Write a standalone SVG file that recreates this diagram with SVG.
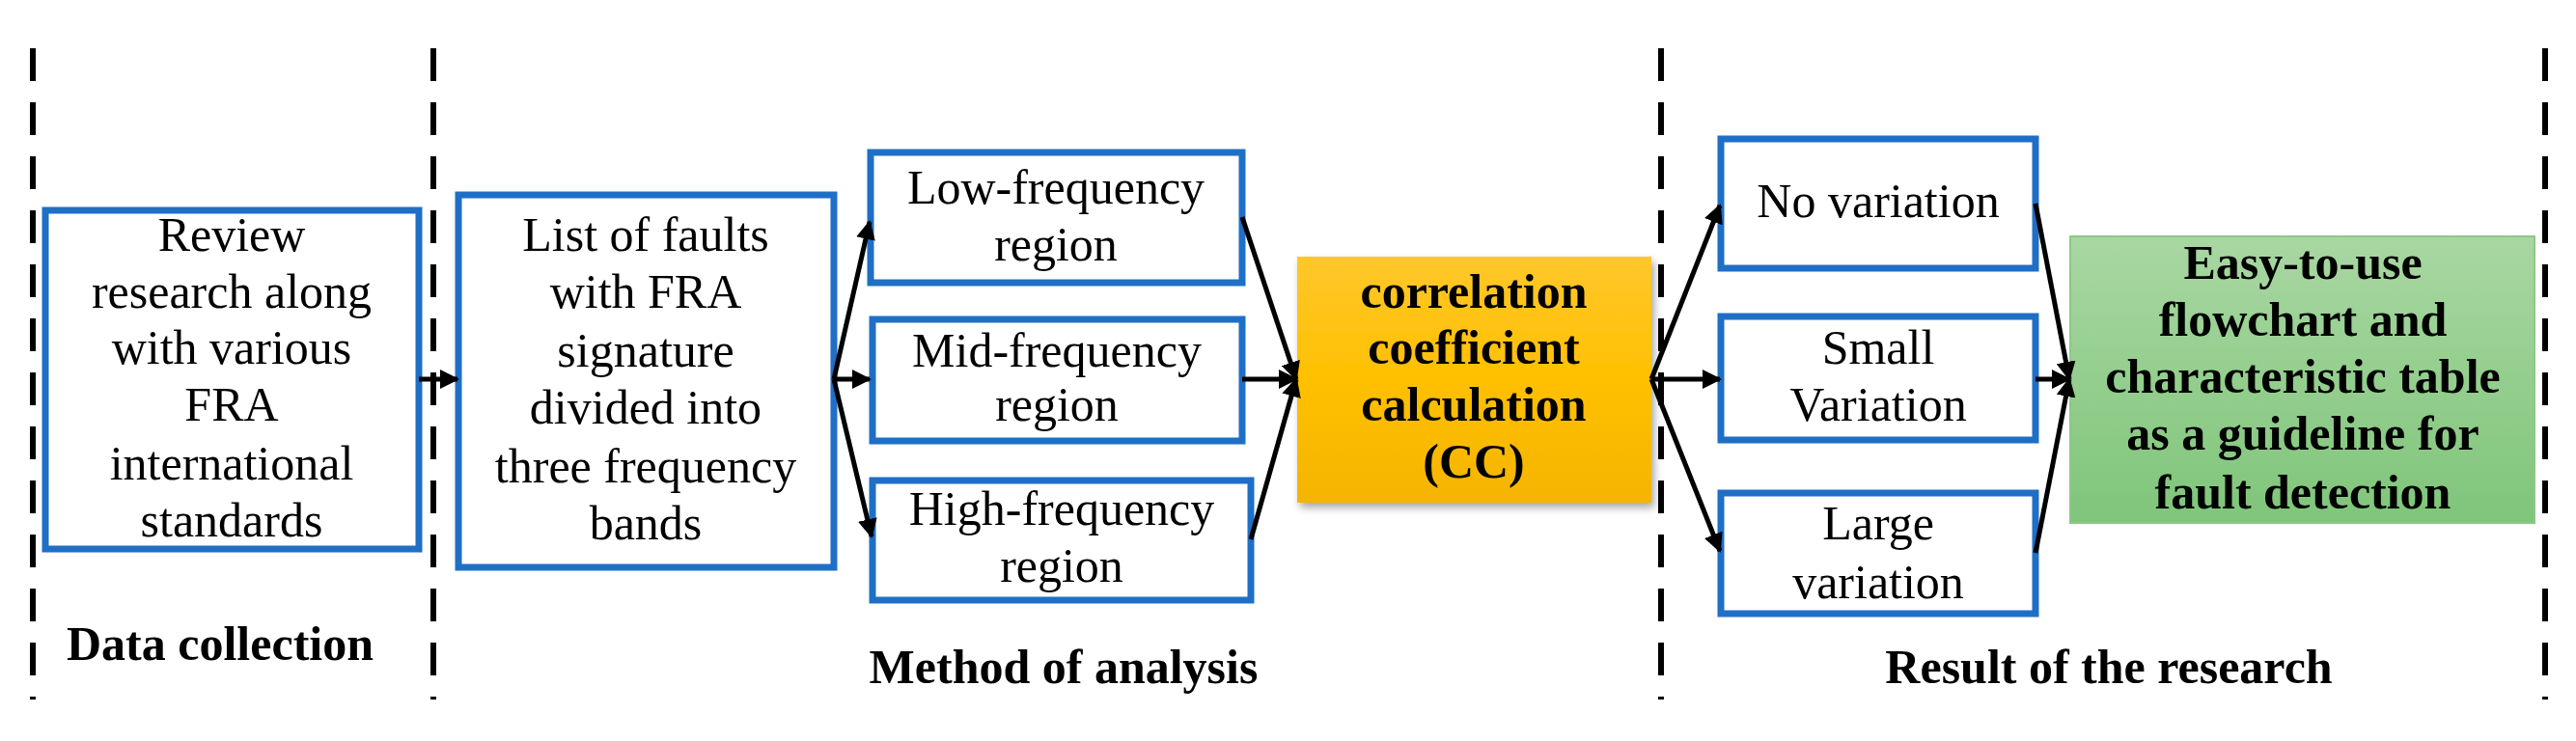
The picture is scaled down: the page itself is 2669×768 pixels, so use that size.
<svg xmlns="http://www.w3.org/2000/svg" width="2669" height="768" viewBox="0 0 2669 768">
<defs>
<style>
.t{font-family:"Liberation Serif",serif;font-size:50px;fill:#000;text-anchor:middle}
.b{font-weight:bold}
.box{fill:#fff;stroke:#1f6fc6;stroke-width:7}
.dash{stroke:#000;stroke-width:6;stroke-dasharray:34 22}
.c{stroke:#000;stroke-width:5;fill:none;marker-end:url(#ah)}
</style>
<marker id="ah" viewBox="0 0 10 10" refX="9" refY="5" markerWidth="4" markerHeight="4" orient="auto" markerUnits="strokeWidth"><path d="M0,0L10,5L0,10z" fill="#000"/></marker>
<linearGradient id="og" x1="0" y1="0" x2="0" y2="1"><stop offset="0" stop-color="#ffc72c"/><stop offset="0.5" stop-color="#ffc000"/><stop offset="1" stop-color="#f5b400"/></linearGradient>
<linearGradient id="gg" x1="0" y1="0" x2="0" y2="1"><stop offset="0" stop-color="#a9d7a2"/><stop offset="1" stop-color="#7fc57a"/></linearGradient>
<filter id="sh" x="-10%" y="-10%" width="130%" height="130%"><feDropShadow dx="3" dy="5" stdDeviation="4" flood-color="#000" flood-opacity="0.35"/></filter>
</defs>
<g id="dividers">
<line class="dash" x1="34" y1="50" x2="34" y2="725"/>
<line class="dash" x1="449" y1="50" x2="449" y2="725"/>
<line class="dash" x1="1721" y1="50" x2="1721" y2="725"/>
<line class="dash" x1="2637" y1="50" x2="2637" y2="725"/>
</g>
<g id="n1"><rect class="box" x="47" y="218" width="387" height="351"/>
<text class="t" x="240" y="260">Review</text><text class="t" x="240" y="319">research along</text><text class="t" x="240" y="377">with various</text><text class="t" x="240" y="436">FRA</text><text class="t" x="240" y="497">international</text><text class="t" x="240" y="556">standards</text></g>
<g id="n2"><rect class="box" x="475" y="202" width="389" height="386"/>
<text class="t" x="669" y="260">List of faults</text><text class="t" x="669" y="319">with FRA</text><text class="t" x="669" y="380">signature</text><text class="t" x="669" y="439">divided into</text><text class="t" x="669" y="500">three frequency</text><text class="t" x="669" y="559">bands</text></g>
<g id="n3"><rect class="box" x="902" y="158" width="385" height="135"/><text class="t" x="1094" y="211">Low-frequency</text><text class="t" x="1094" y="270">region</text></g>
<g id="n4"><rect class="box" x="904" y="331" width="383" height="126"/><text class="t" x="1095" y="380">Mid-frequency</text><text class="t" x="1095" y="436">region</text></g>
<g id="n5"><rect class="box" x="904" y="498" width="392" height="124"/><text class="t" x="1100" y="544">High-frequency</text><text class="t" x="1100" y="603">region</text></g>
<g id="n6"><rect x="1344" y="266" width="367" height="255" fill="url(#og)" filter="url(#sh)"/>
<text class="t b" x="1527" y="319">correlation</text><text class="t b" x="1527" y="377">coefficient</text><text class="t b" x="1527" y="436">calculation</text><text class="t b" x="1527" y="495">(CC)</text></g>
<g id="n7"><rect class="box" x="1783" y="144" width="326" height="134"/><text class="t" x="1946" y="225">No variation</text></g>
<g id="n8"><rect class="box" x="1783" y="328" width="326" height="128"/><text class="t" x="1946" y="377">Small</text><text class="t" x="1946" y="436">Variation</text></g>
<g id="n9"><rect class="box" x="1783" y="511" width="326" height="125"/><text class="t" x="1946" y="559">Large</text><text class="t" x="1946" y="620">variation</text></g>
<g id="n10"><rect x="2145" y="245" width="481" height="297" fill="url(#gg)" stroke="#8cc888" stroke-width="2"/>
<text class="t b" x="2386" y="289">Easy-to-use</text><text class="t b" x="2386" y="348">flowchart and</text><text class="t b" x="2386" y="407">characteristic table</text><text class="t b" x="2386" y="466">as a guideline for</text><text class="t b" x="2386" y="527">fault detection</text></g>
<g id="labels">
<text class="t b" x="228" y="684">Data collection</text>
<text class="t b" x="1102" y="708">Method of analysis</text>
<text class="t b" x="2185" y="708">Result of the research</text>
</g>
<g id="connectors">
<line class="c" x1="434" y1="393" x2="474" y2="393"/>
<line class="c" x1="864" y1="393" x2="901" y2="230"/>
<line class="c" x1="864" y1="393" x2="901" y2="393"/>
<line class="c" x1="864" y1="393" x2="903" y2="556"/>
<line class="c" x1="1287" y1="225" x2="1343" y2="393"/>
<line class="c" x1="1287" y1="393" x2="1343" y2="393"/>
<line class="c" x1="1296" y1="559" x2="1343" y2="393"/>
<line class="c" x1="1711" y1="393" x2="1782" y2="213"/>
<line class="c" x1="1711" y1="393" x2="1782" y2="393"/>
<line class="c" x1="1711" y1="393" x2="1782" y2="571"/>
<line class="c" x1="2109" y1="211" x2="2144" y2="393"/>
<line class="c" x1="2109" y1="393" x2="2144" y2="393"/>
<line class="c" x1="2109" y1="573" x2="2144" y2="393"/>
</g>
</svg>
